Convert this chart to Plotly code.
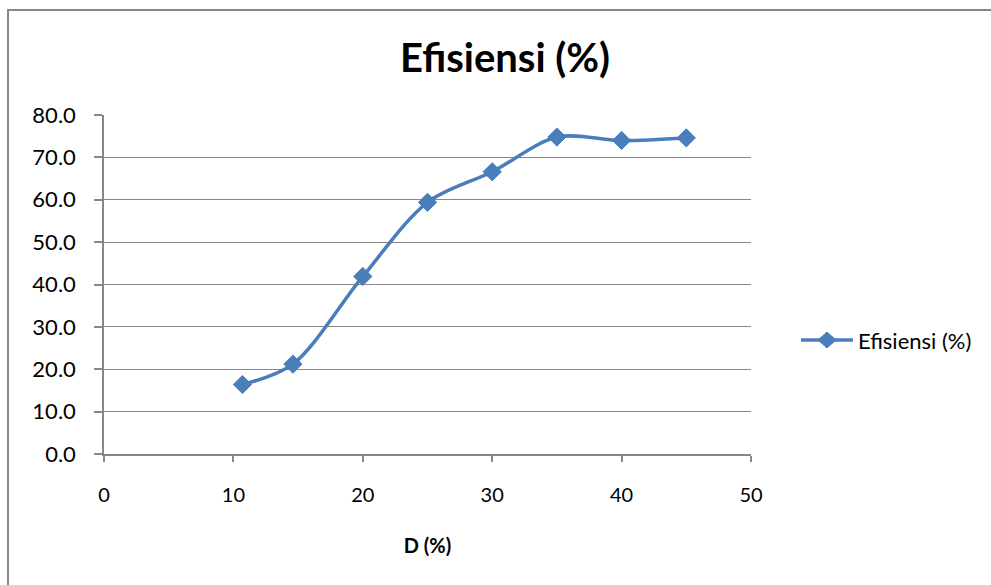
import plotly.graph_objects as go

# Measured series
d_percent = [10.7, 14.6, 20, 25, 30, 35, 40, 45]
efisiensi = [16.4, 21.2, 41.9, 59.4, 66.6, 74.8, 74.0, 74.6]

series_name = "Efisiensi (%)"
x_title = "D (%)"
x_ticks = [0, 10, 20, 30, 40, 50]
y_ticks = [0, 10, 20, 30, 40, 50, 60, 70, 80]

line_blue = "#4a7ebb"
grid_grey = "#878787"
font_family = "Lato, Carlito, 'Open Sans', sans-serif"

W, H = 991, 585
L, R, T, B = 104, 240, 115, 131
PW, PH = W - L - R, H - T - B


def px_x(p):
    """Page pixel column -> paper fraction."""
    return (p - L) / PW


def px_y(p):
    """Page pixel row -> paper fraction."""
    return (H - B - p) / PH


fig = go.Figure()
fig.add_trace(go.Scatter(
    x=d_percent,
    y=efisiensi,
    name=series_name,
    mode="lines+markers",
    line=dict(color=line_blue, width=3.5, shape="spline", smoothing=0.9),
    marker=dict(symbol="diamond", size=14, color=line_blue,
                line=dict(color=line_blue, width=1)),
    showlegend=False,
))

# Legend key drawn by hand: long line sample with a diamond in the middle
leg_y = 340
leg_x0, leg_x1 = 801, 853
leg_xc = (leg_x0 + leg_x1) / 2
dia_w, dia_h = 9, 8
legend_shapes = [
    dict(type="line", xref="paper", yref="paper",
         x0=px_x(leg_x0), x1=px_x(leg_x1), y0=px_y(leg_y), y1=px_y(leg_y),
         line=dict(color=line_blue, width=3.5)),
    dict(type="path", xref="paper", yref="paper",
         path=(f"M {px_x(leg_xc - dia_w)},{px_y(leg_y)} "
               f"L {px_x(leg_xc)},{px_y(leg_y - dia_h)} "
               f"L {px_x(leg_xc + dia_w)},{px_y(leg_y)} "
               f"L {px_x(leg_xc)},{px_y(leg_y + dia_h)} Z"),
         fillcolor=line_blue, line=dict(color=line_blue, width=1)),
]

fig.update_layout(
    width=W, height=H,
    margin=dict(l=L, r=R, t=T, b=B),
    paper_bgcolor="white",
    plot_bgcolor="rgba(0,0,0,0)",
    font=dict(family=font_family, size=22, color="black"),
    title=dict(text="<b>Efisiensi (%)</b>", x=505 / W, xref="container",
               xanchor="center", y=1 - 58 / H, yref="container", yanchor="middle",
               font=dict(size=40, family=font_family, color="black")),
    xaxis=dict(
        range=[0, 50], tickvals=x_ticks, ticktext=[str(v) for v in x_ticks],
        showgrid=False, zeroline=False,
        showline=True, linecolor=grid_grey, linewidth=1.5,
        ticks="outside", ticklen=6, tickcolor=grid_grey, tickwidth=1.5,
        ticklabelstandoff=16,
        tickfont=dict(size=20),
        title=dict(text="<b>" + x_title + "</b>", font=dict(size=20), standoff=34),
    ),
    yaxis=dict(
        range=[0, 80], tickvals=y_ticks, tickformat=".1f",
        showgrid=True, gridcolor=grid_grey, gridwidth=1.3,
        zeroline=False,
        showline=True, linecolor=grid_grey, linewidth=1.5,
        ticks="outside", ticklen=8, tickcolor=grid_grey, tickwidth=1.5,
        ticklabelstandoff=14,
        tickfont=dict(size=22),
    ),
    annotations=[
        dict(text=series_name, xref="paper", yref="paper",
             x=px_x(856), y=px_y(leg_y), xanchor="left", yanchor="middle",
             showarrow=False, font=dict(size=22, color="black")),
    ],
    shapes=[
        # chart frame, open beyond the right and bottom page edges
        dict(type="rect", xref="paper", yref="paper",
             x0=px_x(8), x1=px_x(1000), y0=px_y(600), y1=px_y(10),
             line=dict(color=grid_grey, width=2), fillcolor="rgba(0,0,0,0)",
             layer="below"),
    ] + legend_shapes,
)

fig.write_html("out.html")
